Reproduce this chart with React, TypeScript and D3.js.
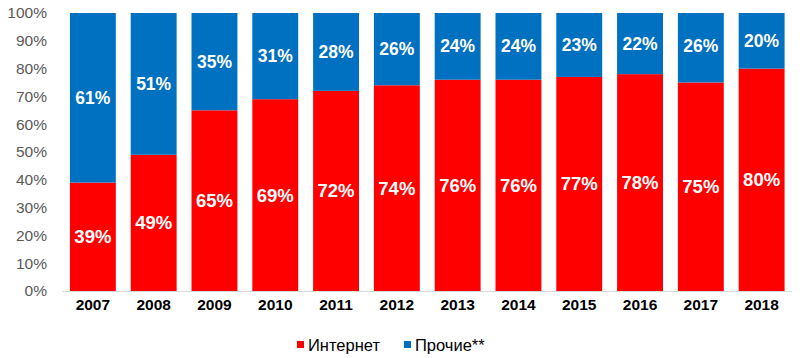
import { useEffect, useRef } from 'react';
import * as d3 from 'd3';

// данные: доля интернета и прочих каналов по годам
const years = ['2007', '2008', '2009', '2010', '2011', '2012', '2013', '2014', '2015', '2016', '2017', '2018'];
const internet = [39, 49, 65, 69, 72, 74, 76, 76, 77, 78, 75, 80];
const others = [61, 51, 35, 31, 28, 26, 24, 24, 23, 22, 26, 20];
const yTicks = [0, 10, 20, 30, 40, 50, 60, 70, 80, 90, 100];
const seriesNames = ['Интернет', 'Прочие**'];
const colors = ['#ff0000', '#0070c0'];

const App = () => {
  const svgRef = useRef<SVGSVGElement | null>(null);

  useEffect(() => {
    if (!svgRef.current) return;
    const svg = d3.select(svgRef.current);
    svg.selectAll('*').remove();
    const font = '"Liberation Sans", Arial, sans-serif';

    const x = d3.scaleBand().domain(years).range([62.5, 792]).paddingInner(0.245).paddingOuter(0.122);
    const y = d3.scaleLinear().domain([0, 100]).range([291, 13]);

    // подписи оси Y
    svg.append('g').selectAll('text').data(yTicks).enter().append('text')
      .attr('x', 47).attr('y', d => y(d)).attr('dy', '0.35em')
      .attr('text-anchor', 'end').attr('font-family', font).attr('font-size', 15.5)
      .attr('fill', '#595959').text(d => `${d}%`);

    // нижняя линия оси
    svg.append('line').attr('x1', 62).attr('x2', 792).attr('y1', 291.5).attr('y2', 291.5)
      .attr('stroke', '#d9d9d9').attr('stroke-width', 1);

    const g = svg.append('g');
    years.forEach((yr, i) => {
      const x0 = x(yr)!;
      const bw = x.bandwidth();
      // красный сегмент
      g.append('rect').attr('x', x0).attr('width', bw)
        .attr('y', y(internet[i])).attr('height', y(0) - y(internet[i])).attr('fill', colors[0]);
      // синий сегмент
      g.append('rect').attr('x', x0).attr('width', bw)
        .attr('y', y(100)).attr('height', y(internet[i]) - y(100)).attr('fill', colors[1]);

      g.append('text').attr('x', x0 + bw / 2).attr('y', y(internet[i] / 2)).attr('dy', '0.35em')
        .attr('text-anchor', 'middle').attr('font-family', font).attr('font-weight', 'bold')
        .attr('font-size', 18.5).attr('fill', '#fff').text(`${internet[i]}%`);
      g.append('text').attr('x', x0 + bw / 2).attr('y', y(internet[i] + others[i] / 2)).attr('dy', '0.35em')
        .attr('text-anchor', 'middle').attr('font-family', font).attr('font-weight', 'bold')
        .attr('font-size', 17.5).attr('fill', '#fff').text(`${others[i]}%`);

      g.append('text').attr('x', x0 + bw / 2).attr('y', 310)
        .attr('text-anchor', 'middle').attr('font-family', font).attr('font-weight', 'bold')
        .attr('font-size', 15.5).attr('fill', '#000').text(yr);
    });

    // легенда
    const legendX = [297, 404];
    seriesNames.forEach((name, i) => {
      svg.append('rect').attr('x', legendX[i]).attr('y', 341).attr('width', 7).attr('height', 7)
        .attr('fill', colors[i]);
      svg.append('text').attr('x', legendX[i] + 11).attr('y', 345).attr('dy', '0.35em')
        .attr('font-family', font).attr('font-size', 16.5).attr('fill', '#000').text(name);
    });
  }, []);

  return <svg ref={svgRef} width={800} height={358} style={{ position: 'absolute', left: 0, top: 0, display: 'block' }} />;
};

export default App;
